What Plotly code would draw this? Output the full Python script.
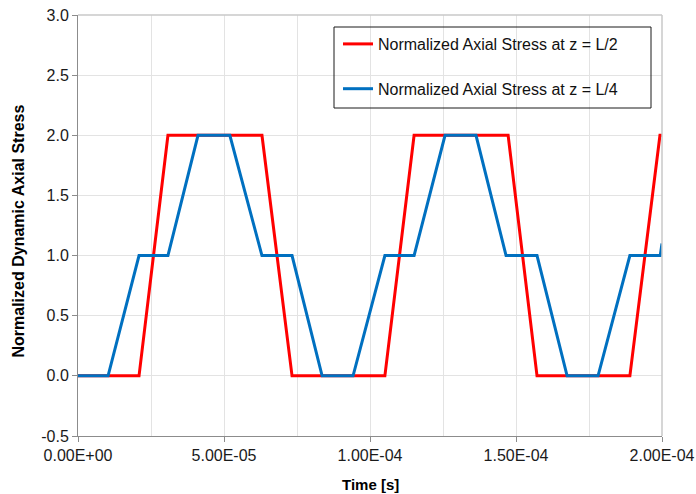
import plotly.graph_objects as go

# Data (time in seconds)
red_t_us = [0, 20.9, 30.8, 63.0, 73.3, 105.1, 115.1, 147.3, 157.2, 189.0, 199.3, 200.0]
red_v = [0, 0, 2, 2, 0, 0, 2, 2, 0, 0, 2, 2]

blue_t_us = [0, 10.3, 20.9, 30.8, 41.1, 52.0, 63.0, 73.3, 83.6, 94.2, 105.1, 115.1,
             125.7, 136.3, 146.6, 157.2, 167.5, 178.1, 189.0, 199.4, 200.0]
blue_v = [0, 0, 1, 1, 2, 2, 1, 1, 0, 0, 1, 1, 2, 2, 1, 1, 0, 0, 1, 1, 1.1]

x_tickvals = [0, 5e-5, 1e-4, 1.5e-4, 2e-4]
x_ticktext = [f"{v:.2E}" for v in x_tickvals]
y_tickvals = [-0.5, 0, 0.5, 1.0, 1.5, 2.0, 2.5, 3.0]
y_ticktext = [f"{v:.1f}" for v in y_tickvals]

red_t = [t * 1e-6 for t in red_t_us]
blue_t = [t * 1e-6 for t in blue_t_us]

FONT = "Liberation Sans, Arial, sans-serif"
W, H = 696, 494
ML, MR, MT, MB = 78, 34, 15, 58
PW, PH = W - ML - MR, H - MT - MB

def px_x(p):
    return (p - ML) / PW

def px_y(p):
    return (H - MB - p) / PH

fig = go.Figure()
fig.add_trace(go.Scatter(x=red_t, y=red_v, mode="lines", name="Normalized Axial Stress at z = L/2",
                         line=dict(color="#ff0000", width=3), legendgroup="a"))
fig.add_trace(go.Scatter(x=blue_t, y=blue_v, mode="lines", name="Normalized Axial Stress at z = L/4",
                         line=dict(color="#0070c0", width=3), legendgroup="b"))

fig.update_layout(
    width=W, height=H,
    margin=dict(l=ML, r=MR, t=MT, b=MB, autoexpand=False),
    paper_bgcolor="white", plot_bgcolor="white",
    font=dict(family=FONT, size=16, color="#1a1a1a"),
    showlegend=True,
    legend=dict(x=px_x(338), y=px_y(27), xanchor="left", yanchor="top",
                bgcolor="rgba(0,0,0,0)", borderwidth=0,
                font=dict(family=FONT, size=16, color="#111111"),
                tracegroupgap=21, itemwidth=30),
    xaxis=dict(range=[0, 2e-4], tickmode="array", tickvals=x_tickvals, ticktext=x_ticktext,
               automargin=False,
               showline=True, linecolor="#8c8c8c", linewidth=1,
               ticks="outside", ticklen=5, tickcolor="#8c8c8c",
               showgrid=True, gridcolor="#e3e3e3", gridwidth=1, zeroline=False,
               minor=dict(tickmode="linear", tick0=0, dtick=2.5e-5, showgrid=True,
                          gridcolor="#e3e3e3", ticks=""),
               tickfont=dict(size=16, color="#1a1a1a")),
    yaxis=dict(range=[-0.5, 3.0], tickmode="array", tickvals=y_tickvals, ticktext=y_ticktext,
               automargin=False,
               showline=True, linecolor="#8c8c8c", linewidth=1,
               ticks="outside", ticklen=5, tickcolor="#8c8c8c",
               showgrid=True, gridcolor="#e3e3e3", gridwidth=1, zeroline=False,
               tickfont=dict(size=16, color="#1a1a1a")),
    shapes=[
        dict(type="line", xref="paper", yref="paper", x0=0, x1=1, y0=1, y1=1,
             line=dict(color="#c8c8c8", width=1.5)),
        dict(type="line", xref="paper", yref="paper", x0=1, x1=1, y0=0, y1=1,
             line=dict(color="#c8c8c8", width=1.5)),
        dict(type="rect", xref="paper", yref="paper",
             x0=px_x(334), x1=px_x(651), y0=px_y(108), y1=px_y(27),
             line=dict(color="#1a1a1a", width=1), fillcolor="rgba(0,0,0,0)", layer="above"),
    ],
    annotations=[
        dict(text="<b>Time [s]</b>", xref="paper", yref="paper", x=px_x(370), y=px_y(484),
             xanchor="center", yanchor="middle", showarrow=False, borderpad=0,
             font=dict(family=FONT, size=15, color="#000000")),
        dict(text="<b>Normalized Dynamic Axial Stress</b>", xref="paper", yref="paper",
             x=px_x(18.5), y=px_y(231), xanchor="center", yanchor="middle", textangle=-90,
             showarrow=False, font=dict(family=FONT, size=16, color="#000000")),
    ],
)

fig.write_html("out.html")
